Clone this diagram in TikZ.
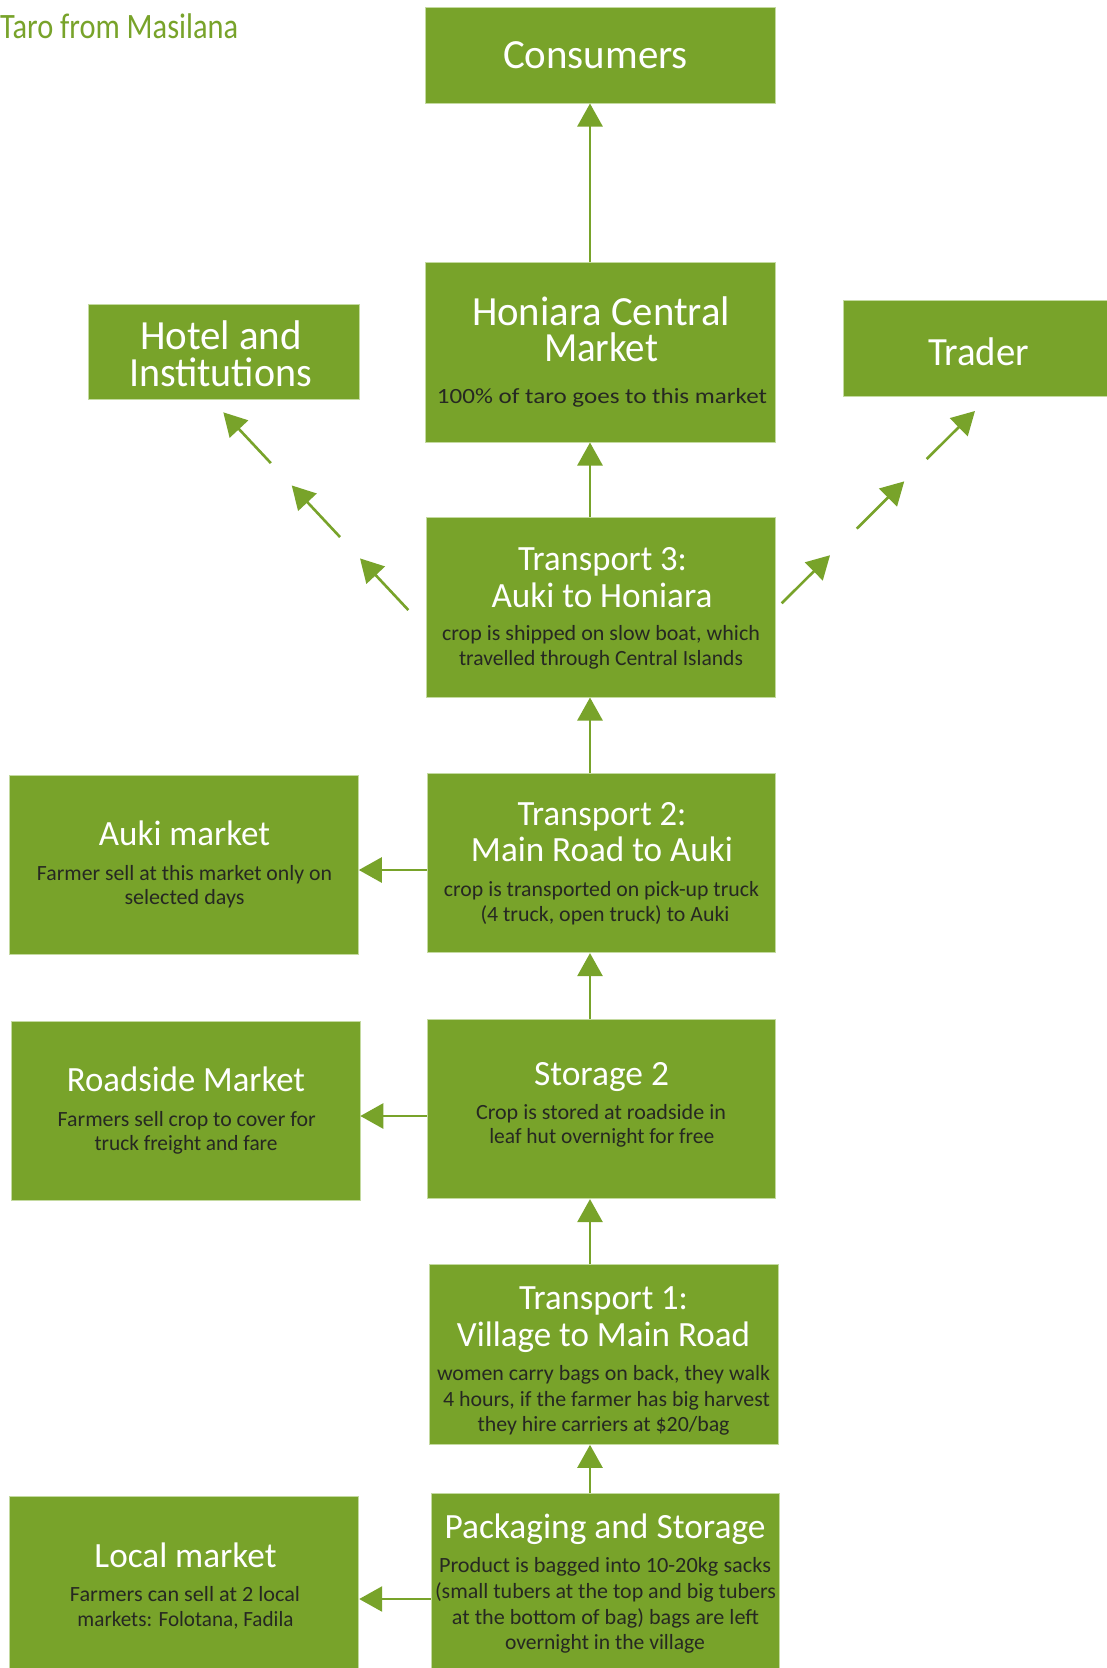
\documentclass[tikz,border=0pt]{standalone}
\usepackage{graphicx}
\usepackage{fontspec}
\setmainfont{Carlito}
\usetikzlibrary{arrows.meta,calc}

\definecolor{leaf}{RGB}{120,163,42}
\definecolor{rim}{RGB}{196,218,160}
\definecolor{ink}{RGB}{38,40,34}

% one line of text, centred on (x, baseline), stretched to a given width
\newcommand{\tline}[6]{\node[#5] (#1) at (#2,#3) {\resizebox{#4pt}{\height}{#6}};}
% a box given by its top-left corner and its size
\newcommand{\stepbox}[5]{\node[box, minimum width=#4pt, minimum height=#5pt] (#1) at (#2,#3) {};}

\begin{document}
\begin{tikzpicture}[x=1pt, y=-1pt,
  box/.style={fill=leaf, draw=rim, line width=0.8pt, inner sep=0pt, anchor=north west},
  big/.style={anchor=base, inner sep=0pt, text=white, font=\fontsize{41.5}{46}\selectfont},
  tradertxt/.style={anchor=base, inner sep=0pt, text=white, font=\fontsize{40}{46}\selectfont},
  mid/.style={anchor=base, inner sep=0pt, text=white, font=\fontsize{35.5}{41}\selectfont},
  body/.style={anchor=base, inner sep=0pt, text=ink, font=\fontsize{21.7}{25}\selectfont},
  caption/.style={anchor=base west, inner sep=0pt, text=leaf, font=\fontsize{35.7}{41}\selectfont},
  flow/.style={draw=leaf, line width=2.6pt, -{Triangle[length=23pt, width=25pt]}}]

\clip (0,0) rectangle (1107,1668);
\fill[white] (0,0) rectangle (1107,1668);

% caption
\tline{caption}{0}{38.3}{238}{caption}{Taro from Masilana}

% boxes
\stepbox{cons}{425}{7.3}{350}{95.4}
\stepbox{hon}{425}{262.3}{350}{179.4}
\stepbox{hotel}{88.3}{304}{270.4}{95}
\stepbox{trader}{843.3}{300}{290}{95.7}
\stepbox{tthree}{426}{517.3}{349.3}{179.4}
\stepbox{auki}{9}{775}{349}{179}
\stepbox{ttwo}{426.5}{773.3}{348.8}{179}
\stepbox{road}{11}{1020.7}{348.5}{179.3}
\stepbox{stwo}{426.5}{1019}{348.8}{179.3}
\stepbox{tone}{428.5}{1264.3}{349}{179.7}
\stepbox{local}{9.4}{1496}{349}{179}
\stepbox{pack}{430.5}{1493.3}{348}{179}

% texts
\tline{cons1}{595.5}{68.3}{185}{big}{Consumers}

\tline{hon1}{601}{325}{258}{big}{Honiara Central}
\tline{hon2}{601}{361.7}{114}{big}{Market}
\tline{hon3}{602}{403.3}{330}{body}{100\% of taro goes to this market}

\tline{hotel1}{221}{349.3}{162}{big}{Hotel and}
\tline{hotel2}{220.5}{386}{183}{big}{Institutions}

\tline{trader1}{978.5}{365}{101}{tradertxt}{Trader}

\tline{tthree1}{602.5}{570}{169}{mid}{Transport 3:}
\tline{tthree2}{602}{607.3}{221}{mid}{Auki to Honiara}
\tline{tthree3}{601}{640.7}{318}{body}{crop is shipped on slow boat, which}
\tline{tthree4}{601}{665.7}{284}{body}{travelled through Central Islands}

\tline{auki1}{184.5}{845}{171}{mid}{Auki market}
\tline{auki2}{184.5}{880}{295}{body}{Farmer sell at this market only on}
\tline{auki3}{184.5}{904.5}{120}{body}{selected days}

\tline{ttwo1}{602}{825}{169}{mid}{Transport 2:}
\tline{ttwo2}{602}{861.7}{262}{mid}{Main Road to Auki}
\tline{ttwo3}{601.5}{896.7}{315}{body}{crop is transported on pick-up truck}
\tline{ttwo4}{605}{921}{249}{body}{(4 truck, open truck) to Auki}

\tline{road1}{186}{1091.7}{238}{mid}{Roadside Market}
\tline{road2}{186.7}{1126}{258}{body}{Farmers sell crop to cover for}
\tline{road3}{186}{1150.7}{183}{body}{truck freight and fare}

\tline{stwo1}{601.5}{1085}{135}{mid}{Storage 2}
\tline{stwo2}{601}{1119.3}{250}{body}{Crop is stored at roadside in}
\tline{stwo3}{601.8}{1143.3}{225}{body}{leaf hut overnight for free}

\tline{tone1}{603.5}{1309.3}{169}{mid}{Transport 1:}
\tline{tone2}{603.5}{1346.7}{293}{mid}{Village to Main Road}
\tline{tone3}{603.5}{1380}{333}{body}{women carry bags on back, they walk}
\tline{tone4}{606.5}{1406}{327}{body}{4 hours, if the farmer has big harvest}
\tline{tone5}{603.5}{1431.7}{252}{body}{they hire carriers at \$20/bag}

\tline{local1}{185.5}{1567.3}{182}{mid}{Local market}
\tline{local2}{185}{1601.7}{230}{body}{Farmers can sell at 2 local}
\tline{local3}{185.5}{1626.7}{216}{body}{markets: Folotana, Fadila}

\tline{pack1}{605}{1538.3}{321}{mid}{Packaging and Storage}
\tline{pack2}{605}{1572.7}{332}{body}{Product is bagged into 10-20kg sacks}
\tline{pack3}{605.5}{1598.3}{341}{body}{(small tubers at the top and big tubers}
\tline{pack4}{605.5}{1624}{307}{body}{at the bottom of bag) bags are left}
\tline{pack5}{605}{1649.3}{200}{body}{overnight in the village}

% main upward chain
\coordinate (ax) at (590,0);
\draw[flow] (hon.north -| ax) -- (cons.south -| ax);
\draw[flow] (tthree.north -| ax) -- (hon.south -| ax);
\draw[flow] (ttwo.north -| ax) -- (tthree.south -| ax);
\draw[flow] (stwo.north -| ax) -- (ttwo.south -| ax);
\draw[flow] (tone.north -| ax) -- (stwo.south -| ax);
\draw[flow] (pack.north -| ax) -- (tone.south -| ax);

% side markets
\coordinate (yauki) at (0,870);
\coordinate (yroad) at (0,1116);
\coordinate (ylocal) at (0,1599);
\draw[flow] (ttwo.west |- yauki) -- (auki.east |- yauki);
\draw[flow] (stwo.west |- yroad) -- (road.east |- yroad);
\draw[flow] (pack.west |- ylocal) -- (local.east |- ylocal);

% broken arrows towards hotels and traders
\coordinate (hs) at (408.3,610);
\coordinate (he) at (223.3,412.3);
\draw[flow] ($(hs)!0!(he)$) -- ($(hs)!0.261!(he)$);
\draw[flow] ($(hs)!0.369!(he)$) -- ($(hs)!0.630!(he)$);
\draw[flow] ($(hs)!0.743!(he)$) -- ($(hs)!1!(he)$);

\coordinate (ts) at (781.7,603.3);
\coordinate (te) at (975,411);
\draw[flow] ($(ts)!0!(te)$) -- ($(ts)!0.25!(te)$);
\draw[flow] ($(ts)!0.388!(te)$) -- ($(ts)!0.634!(te)$);
\draw[flow] ($(ts)!0.75!(te)$) -- ($(ts)!1!(te)$);
\end{tikzpicture}
\end{document}
